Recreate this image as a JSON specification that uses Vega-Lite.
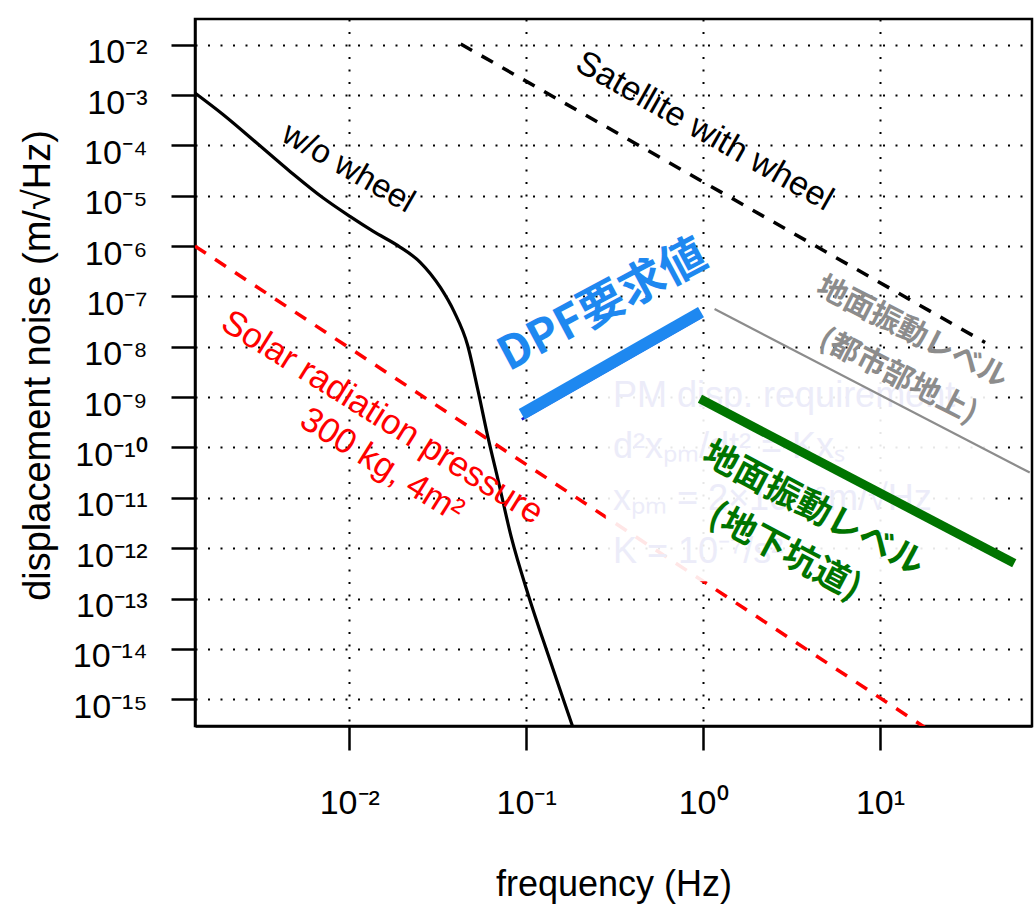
{
  "$schema": "https://vega.github.io/schema/vega-lite/v6.json",
  "width": 837,
  "height": 707,
  "autosize": {"type": "none"},
  "padding": {"left": 195, "top": 19, "right": 2, "bottom": 179},
  "background": "white",
  "config": {
    "view": {"stroke": "#000000", "strokeWidth": 2.5},
    "axis": {
      "labelFont": "Liberation Sans",
      "labelFontSize": 34,
      "labelColor": "#000000",
      "titleFont": "Liberation Sans",
      "titleFontWeight": "normal",
      "titleColor": "#000000",
      "tickColor": "#000000",
      "tickSize": 24,
      "tickWidth": 2.5,
      "domainColor": "#000000",
      "domainWidth": 2.5,
      "grid": true,
      "gridColor": "#000000",
      "gridDash": [2, 10.5],
      "gridWidth": 2,
      "gridOpacity": 1,
      "labelFlush": false,
      "labelOverlap": false
    }
  },
  "datasets": {
    "wo_wheel": [
      {"f": 0.001343, "n": 1.096e-3},
      {"f": 0.001941, "n": 4.064e-4},
      {"f": 0.0030, "n": 1.114e-4},
      {"f": 0.004624, "n": 3.041e-5},
      {"f": 0.007129, "n": 8.995e-6},
      {"f": 0.01009, "n": 3.882e-6},
      {"f": 0.01368, "n": 1.954e-6},
      {"f": 0.01936, "n": 9.572e-7},
      {"f": 0.02518, "n": 4.775e-7},
      {"f": 0.03281, "n": 1.493e-7},
      {"f": 0.03908, "n": 5.047e-8},
      {"f": 0.04667, "n": 1.074e-8},
      {"f": 0.05321, "n": 1.442e-9},
      {"f": 0.06067, "n": 1.656e-10},
      {"f": 0.06934, "n": 2.275e-11},
      {"f": 0.08260, "n": 1.596e-12},
      {"f": 0.1030, "n": 1.153e-13},
      {"f": 0.1340, "n": 7.112e-15},
      {"f": 0.1824, "n": 2.985e-16},
      {"f": 0.2014, "n": 1.076e-16}
    ],
    "solar": [
      {"f": 0.001343, "n": 1.0e-6},
      {"f": 19.95, "n": 2.15e-16}
    ],
    "satellite": [
      {"f": 0.04266, "n": 1.033e-2},
      {"f": 39.26, "n": 1.219e-8}
    ],
    "urban": [
      {"f": 1.161, "n": 5.61e-8},
      {"f": 70.2, "n": 3.18e-11}
    ],
    "underground": [
      {"f": 0.960, "n": 9.25e-10},
      {"f": 57.4, "n": 5.04e-13}
    ],
    "dpf": [
      {"f": 0.0944, "n": 4.59e-10},
      {"f": 0.973, "n": 4.88e-8}
    ],
    "dpf_thin": [
      {"f": 0.0944, "n": 3.63e-10},
      {"f": 0.973, "n": 3.89e-8}
    ],
    "box": [
      {"f": 0.2818, "f2": 39.7, "n": 3.25e-9, "n2": 2.21e-13}
    ],
    "box_text": [
      {"f": 0.3097, "n": 6.41e-10, "text": "PM disp. requirement"},
      {"f": 0.3097, "n": 6.22e-11, "text": "d²xₚₘ/dt² = Kxₛ"},
      {"f": 0.3097, "n": 5.77e-12, "text": "xₚₘ = 2×10⁻¹⁶m/√Hz"},
      {"f": 0.3097, "n": 5.1e-13, "text": "K = 10⁻⁷/s²"}
    ],
    "labels": [
      {"key": "wo", "text": "w/o wheel", "f": 0.00987, "n": 3.55e-5},
      {"key": "sat", "text": "Satellite with wheel", "f": 1.016, "n": 1.89e-4},
      {"key": "solar", "text": "Solar radiation pressure", "f": 0.01540, "n": 4.0e-10},
      {"key": "solar", "text": "300 kg, 4m²", "f": 0.01531, "n": 4.52e-11},
      {"key": "dpf", "text": "DPF要求値", "f": 0.2716, "n": 6.52e-8},
      {"key": "urban", "text": "地面振動レベル", "f": 15.2, "n": 1.9e-8},
      {"key": "urban", "text": "(都市部地上)", "f": 12.65, "n": 2.54e-9},
      {"key": "under", "text": "地面振動レベル", "f": 4.21, "n": 6.04e-12},
      {"key": "under", "text": "(地下坑道)", "f": 2.90, "n": 8.45e-13}
    ]
  },
  "encoding": {
    "x": {
      "field": "f",
      "type": "quantitative",
      "scale": {"type": "log", "domain": [0.001343, 72.3], "nice": false},
      "axis": {
        "values": [0.01, 0.1, 1, 10],
        "labelExpr": "['10⁻²','10⁻¹','10⁰','10¹'][round(log(datum.value)/LN10)+2]",
        "labelBaseline": "alphabetic",
        "labelPadding": 63,
        "title": "frequency (Hz)",
        "titleFontSize": 36,
        "titleBaseline": "alphabetic",
        "titleX": 418.5,
        "titleY": 169
      }
    },
    "y": {
      "field": "n",
      "type": "quantitative",
      "scale": {"type": "log", "domain": [2.94e-16, 0.0324], "nice": false},
      "axis": {
        "values": [1e-15, 1e-14, 1e-13, 1e-12, 1e-11, 1e-10, 1e-9, 1e-8, 1e-7, 1e-6, 1e-5, 1e-4, 1e-3, 1e-2],
        "labelExpr": "['10⁻²','10⁻³','10⁻⁴','10⁻⁵','10⁻⁶','10⁻⁷','10⁻⁸','10⁻⁹','10⁻¹⁰','10⁻¹¹','10⁻¹²','10⁻¹³','10⁻¹⁴','10⁻¹⁵'][-round(log(datum.value)/LN10)-2]",
        "labelBaseline": "alphabetic",
        "labelOffset": 18,
        "labelPadding": 24,
        "title": "displacement noise  (m/√Hz)",
        "titleFontSize": 38,
        "titleBaseline": "alphabetic",
        "titleX": -146,
        "titleY": 346
      }
    }
  },
  "layer": [
    {
      "data": {"name": "solar"},
      "mark": {"type": "line", "color": "#ff0000", "strokeWidth": 3.5, "strokeDash": [13, 11], "clip": true}
    },
    {
      "data": {"name": "wo_wheel"},
      "mark": {"type": "line", "color": "#000000", "strokeWidth": 3.2, "interpolate": "monotone", "clip": true}
    },
    {
      "data": {"name": "box"},
      "mark": {"type": "rect", "color": "#ffffff", "opacity": 0.9},
      "encoding": {"x2": {"field": "f2"}, "y2": {"field": "n2"}}
    },
    {
      "data": {"name": "box_text"},
      "mark": {"type": "text", "align": "left", "baseline": "alphabetic", "font": "Liberation Sans", "fontSize": 36, "color": "#ececf9"},
      "encoding": {"text": {"field": "text"}}
    },
    {
      "data": {"name": "satellite"},
      "mark": {"type": "line", "color": "#000000", "strokeWidth": 3.5, "strokeDash": [13, 11], "clip": true}
    },
    {
      "data": {"name": "urban"},
      "mark": {"type": "line", "color": "#8c8c8c", "strokeWidth": 2.2, "clip": true}
    },
    {
      "data": {"name": "dpf_thin"},
      "mark": {"type": "line", "color": "#1414c8", "strokeWidth": 2.5, "clip": true}
    },
    {
      "data": {"name": "dpf"},
      "mark": {"type": "line", "color": "#1e88f0", "strokeWidth": 12, "strokeCap": "butt", "clip": true}
    },
    {
      "data": {"name": "underground"},
      "mark": {"type": "line", "color": "#007400", "strokeWidth": 9, "strokeCap": "butt", "clip": true}
    },
    {
      "data": {"name": "labels"},
      "transform": [{"filter": "datum.key == 'wo'"}],
      "mark": {"type": "text", "angle": 30, "align": "center", "baseline": "middle", "font": "Liberation Sans", "fontSize": 33, "color": "#000000"},
      "encoding": {"text": {"field": "text"}}
    },
    {
      "data": {"name": "labels"},
      "transform": [{"filter": "datum.key == 'sat'"}],
      "mark": {"type": "text", "angle": 29.5, "align": "center", "baseline": "middle", "font": "Liberation Sans", "fontSize": 34, "color": "#000000"},
      "encoding": {"text": {"field": "text"}}
    },
    {
      "data": {"name": "labels"},
      "transform": [{"filter": "datum.key == 'solar'"}],
      "mark": {"type": "text", "angle": 32, "align": "center", "baseline": "middle", "font": "Liberation Sans", "fontSize": 35, "color": "#ff0000"},
      "encoding": {"text": {"field": "text"}}
    },
    {
      "data": {"name": "labels"},
      "transform": [{"filter": "datum.key == 'dpf'"}],
      "mark": {"type": "text", "angle": -28, "align": "center", "baseline": "middle", "font": "Noto Sans CJK JP", "fontWeight": "bold", "fontSize": 46, "color": "#1e88f0"},
      "encoding": {"text": {"field": "text"}}
    },
    {
      "data": {"name": "labels"},
      "transform": [{"filter": "datum.key == 'urban'"}],
      "mark": {"type": "text", "angle": 27, "align": "center", "baseline": "middle", "font": "Noto Sans CJK JP", "fontWeight": "bold", "fontSize": 30, "color": "#8c8c8c"},
      "encoding": {"text": {"field": "text"}}
    },
    {
      "data": {"name": "labels"},
      "transform": [{"filter": "datum.key == 'under'"}],
      "mark": {"type": "text", "angle": 28, "align": "center", "baseline": "middle", "font": "Noto Sans CJK JP", "fontWeight": "bold", "fontSize": 35, "color": "#007400"},
      "encoding": {"text": {"field": "text"}}
    }
  ]
}
